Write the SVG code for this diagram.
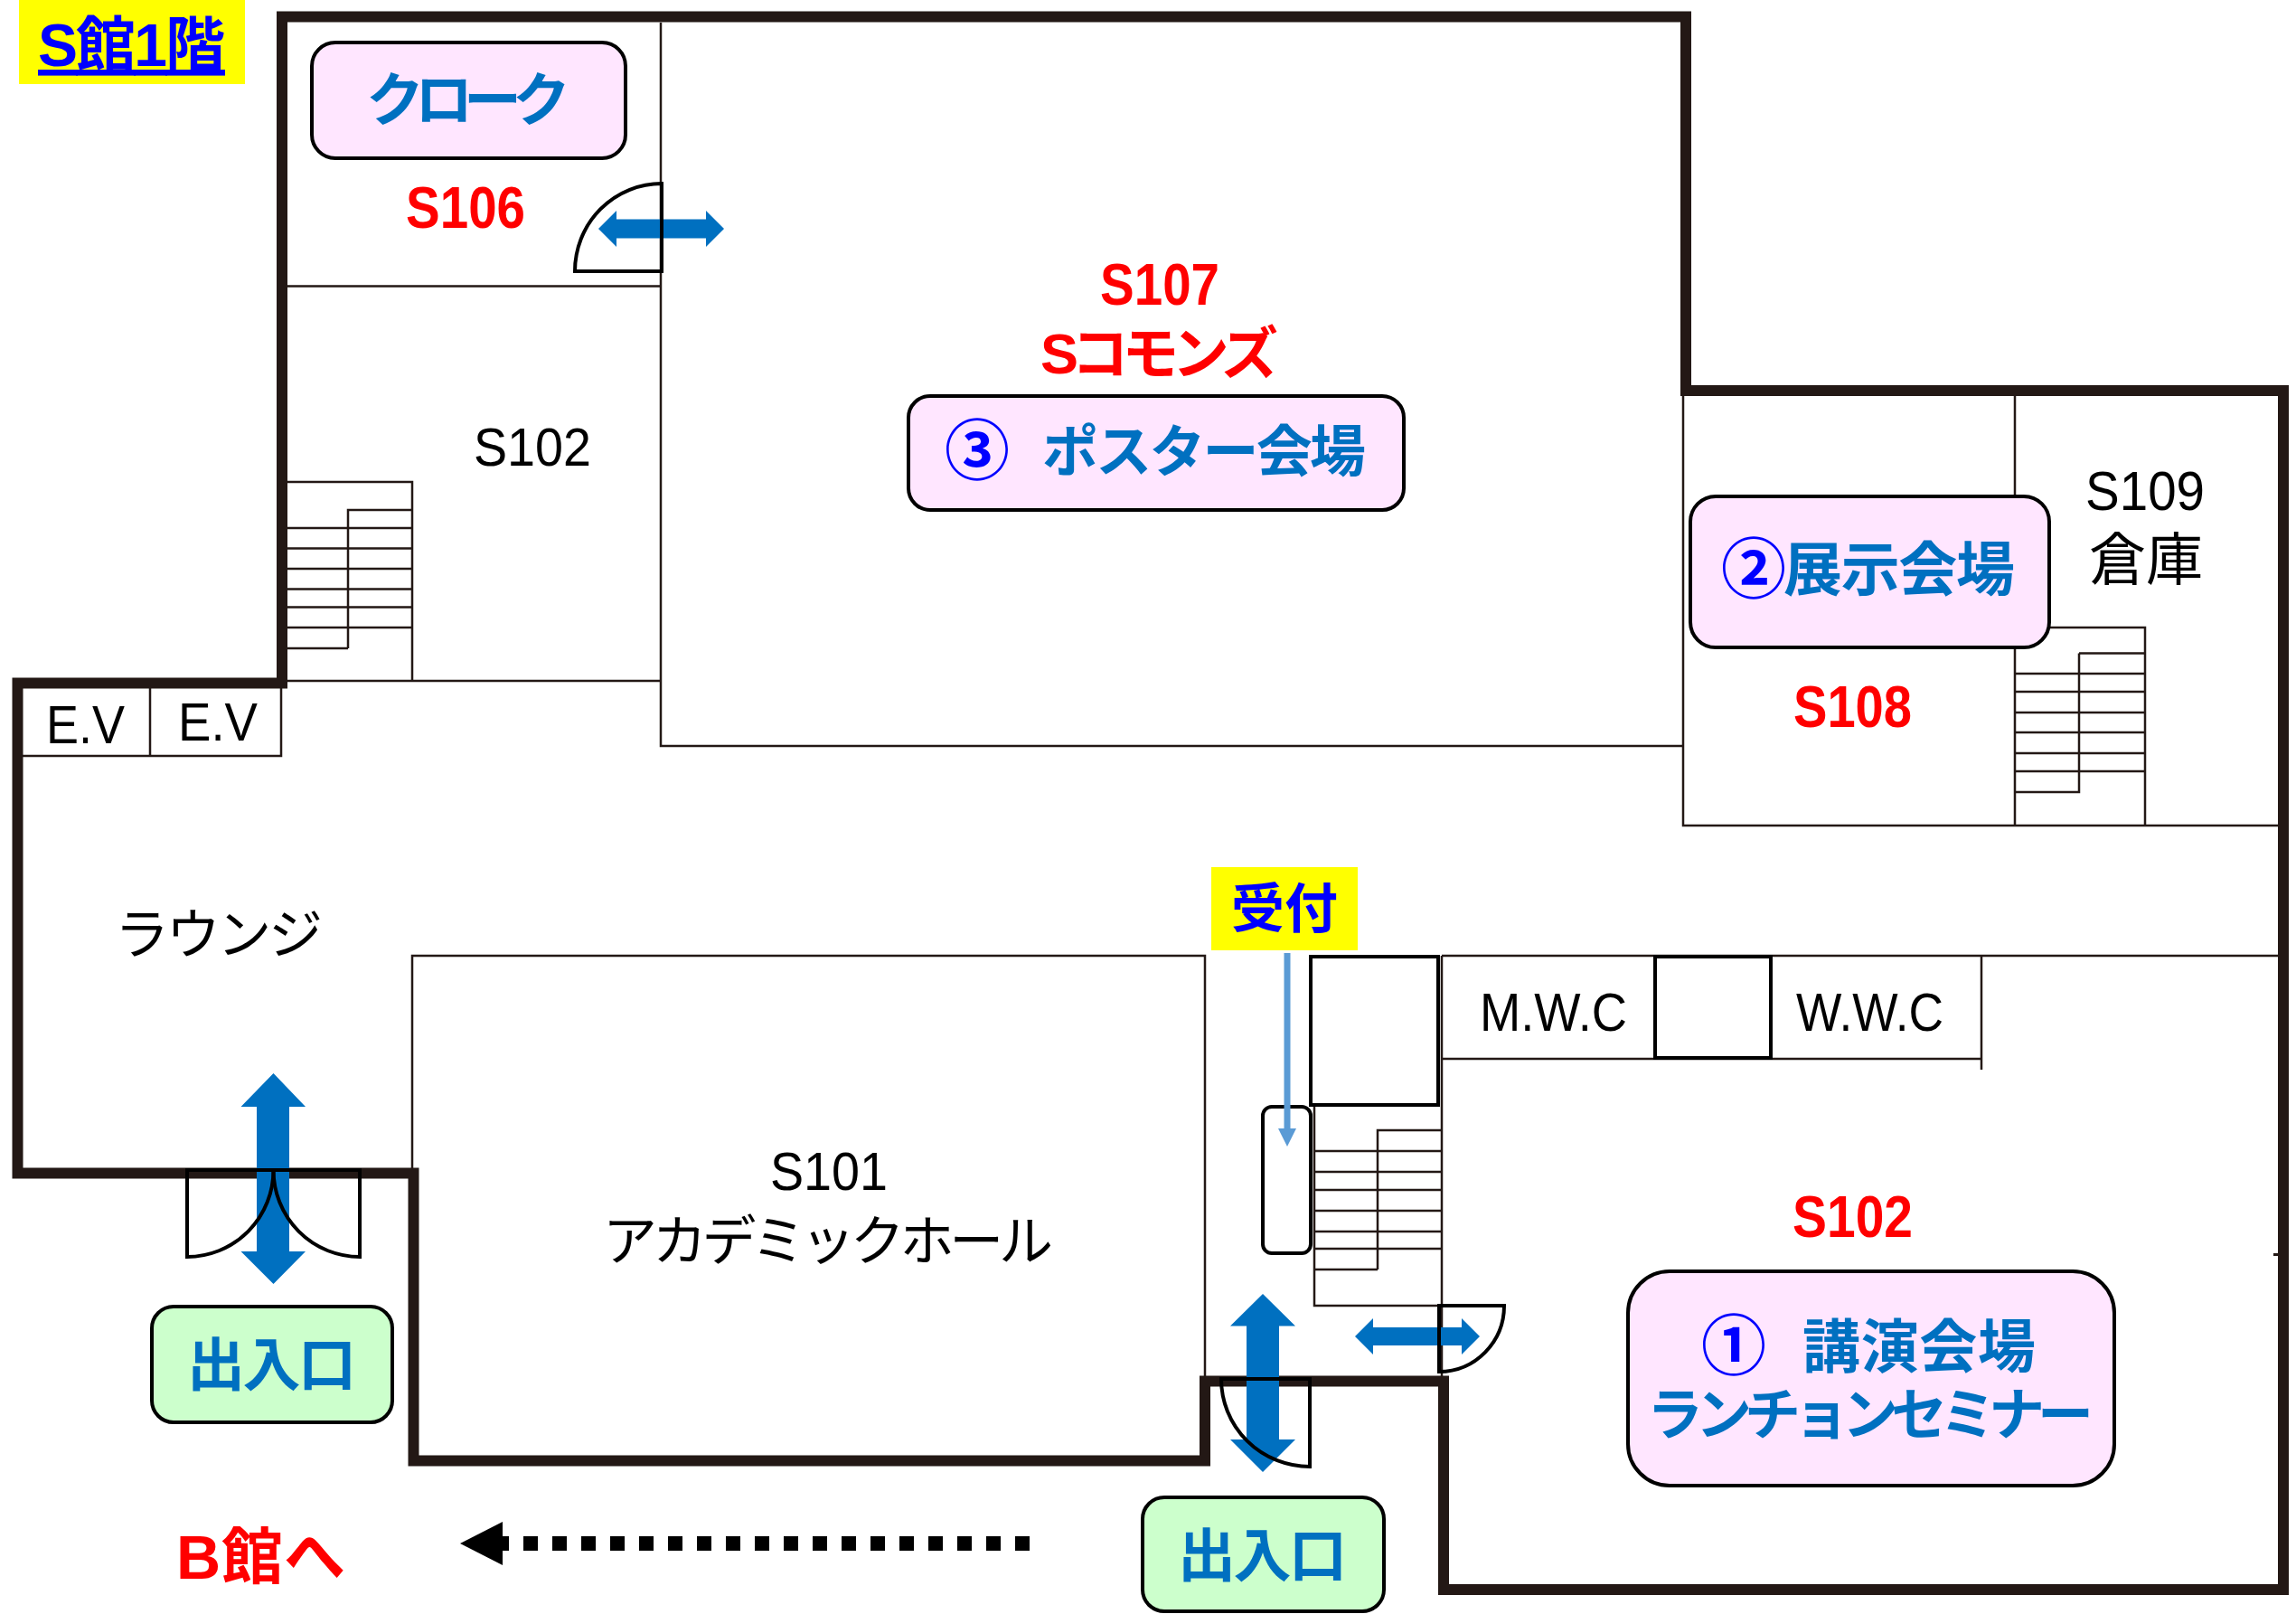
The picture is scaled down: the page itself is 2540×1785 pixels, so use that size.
<svg xmlns="http://www.w3.org/2000/svg" width="2540" height="1785" viewBox="0 0 2540 1785">
<style>
text{font-family:"Liberation Sans","Noto Sans CJK JP",sans-serif;white-space:pre}
.j{font-family:"Noto Sans CJK JP","Liberation Sans",sans-serif}
.b{font-weight:700}
.blue{fill:#0070c0}
.pure{fill:#0000ff}
.red{fill:#ff0000}
.blk{fill:#000}
.wall{fill:none;stroke:#231815;stroke-width:12;stroke-miterlimit:10}
.thin{fill:none;stroke:#231815;stroke-width:2.5}
.door{fill:none;stroke:#000;stroke-width:4}
.arr{fill:#0070c0}
.pink{fill:#ffe6ff;stroke:#000;stroke-width:4}
.green{fill:#ccffcc;stroke:#000;stroke-width:4}
</style>
<rect width="2540" height="1785" fill="#fff"/>

<g id="thin-walls">
<path class="thin" d="M731,25V825H1862M318,316.5H731M318,753H731"/>
<path class="thin" d="M318,533H456V753M385,717V564H456M318,717H385M318,584H456M318,606.5H456M318,629H456M318,651.5H456M318,671.5H456M318,694H456"/>
<path class="thin" d="M25,836H311V760M166,760V836"/>
<path class="thin" d="M1862,437V913H2520M2229,437V913"/>
<path class="thin" d="M2229,694H2373V913M2300,722.5V876H2229M2300,722.5H2373M2229,745H2373M2229,765H2373M2229,788H2373M2229,810H2373M2229,833H2373M2229,853H2373"/>
<path class="thin" d="M456,1615V1057H1333V1525"/>
<path class="thin" d="M1595,1057H2520M1595,1057V1525M1595,1171H2192M2192,1057V1183"/>
<path class="thin" d="M1454,1223V1444H1595M1524,1404V1250H1595M1454,1404H1524M1454,1273H1595M1454,1296H1595M1454,1316H1595M1454,1339H1595M1454,1362H1595M1454,1381H1595"/>
<rect x="1450" y="1058" width="141" height="164" fill="none" stroke="#000" stroke-width="4"/>
<rect x="1831" y="1058" width="128" height="112" fill="none" stroke="#000" stroke-width="4"/>
<rect x="1397" y="1224" width="53" height="162" rx="10" fill="none" stroke="#000" stroke-width="4"/>
<rect x="2515" y="1386" width="6" height="3" fill="#231815"/>
</g>
<path id="outer-wall" class="wall" d="M312,18.500H1865V432H2526V1758H1597V1527.5H1333V1615.5H457.500V1297.500H19.500V755.500H312Z"/>

<g id="connectors">
<polygon class="arr" points="662,253 682,233 682,242.500 781,242.500 781,233 801,253 781,273 781,263.500 682,263.500 682,273"/>
<polygon class="arr" points="302.500,1187 338,1224 320,1224 320,1384 338,1384 302.500,1420 266.500,1384 284,1384 284,1224 266.500,1224"/>
<polygon class="arr" points="1397,1431 1433,1466.500 1415,1466.500 1415,1592 1433,1592 1397,1628 1361,1592 1379,1592 1379,1466.500 1361,1466.500"/>
<polygon class="arr" points="1499,1478 1519,1458 1519,1468 1617,1468 1617,1458 1637,1478 1617,1498 1617,1488 1519,1488 1519,1498"/>
<polygon fill="#5b9bd5" points="1420.500,1054 1427.500,1054 1427.500,1248 1434,1248 1424,1268 1414,1248 1420.500,1248"/>
<line x1="1139" y1="1707" x2="546" y2="1707" stroke="#000" stroke-width="16" stroke-dasharray="16 16"/>
<polygon fill="#000" points="509,1707 556,1683 556,1731"/>
</g>

<g id="doors">
<path class="door" d="M732,203V300H636A96,97 0 0 1 732,203Z"/>
<path class="door" d="M207,1390V1294H302.500A95.500,96 0 0 1 207,1390Z"/>
<path class="door" d="M398,1390V1294H302.500A95.500,96 0 0 0 398,1390Z"/>
<path class="door" d="M1351,1525H1449V1622A98,97 0 0 1 1351,1525Z"/>
<path class="door" d="M1664,1444H1592V1517A72,73 0 0 0 1664,1444Z"/>
</g>

<g id="title"><rect x="21" width="250" height="93" fill="#ffff00"/><text class="b pure" x="42" y="73" font-size="66" text-decoration="underline" textLength="207">S<tspan class="j">館</tspan>1<tspan class="j">階</tspan></text></g>
<g id="cloak"><rect class="pink" x="345" y="47" width="347" height="128" rx="26"/><text class="j b blue" x="405" y="133" font-size="64" textLength="226">クローク</text></g>
<g id="s106"><text class="b red" x="449" y="252" font-size="65" textLength="132" lengthAdjust="spacingAndGlyphs">S106</text></g>
<g id="s102-upper"><text class="blk" x="524" y="515" font-size="60" textLength="130" lengthAdjust="spacingAndGlyphs">S102</text></g>
<g id="ev-1"><text class="blk" x="51" y="822" font-size="60" textLength="87" lengthAdjust="spacingAndGlyphs">E.V</text></g>
<g id="ev-2"><text class="blk" x="197" y="819" font-size="60" textLength="88" lengthAdjust="spacingAndGlyphs">E.V</text></g>
<g id="s107"><text class="b red" x="1217" y="337" font-size="65" textLength="132" lengthAdjust="spacingAndGlyphs">S107</text><text class="b red" x="1151" y="413" font-size="63" textLength="263">S<tspan class="j">コモンズ</tspan></text></g>
<g id="poster"><rect class="pink" x="1005" y="438" width="548" height="126" rx="24"/><text class="j b pure" x="1045" y="524" font-size="72">③</text><text class="j b blue" x="1153" y="522" font-size="62" textLength="358">ポスター会場</text></g>
<g id="exhibit"><rect class="pink" x="1870" y="549" width="397" height="167" rx="28"/><text class="j b pure" x="1904" y="655" font-size="72">②</text><text class="j b blue" x="1973" y="653" font-size="65" textLength="256">展示会場</text></g>
<g id="s108"><text class="b red" x="1984" y="804" font-size="65" textLength="131" lengthAdjust="spacingAndGlyphs">S108</text></g>
<g id="s109"><text class="blk" x="2307" y="564" font-size="62" textLength="132" lengthAdjust="spacingAndGlyphs">S109</text><text class="j blk" x="2311" y="641" font-size="63">倉庫</text></g>
<g id="lounge"><text class="j blk" x="127" y="1055" font-size="60" textLength="230">ラウンジ</text></g>
<g id="reception"><rect x="1340" y="959" width="162" height="92" fill="#ffff00"/><text class="j b pure" x="1362" y="1026" font-size="59">受付</text></g>
<g id="mwc"><text class="blk" x="1637" y="1140" font-size="60" textLength="163" lengthAdjust="spacingAndGlyphs">M.W.C</text></g>
<g id="wwc"><text class="blk" x="1987" y="1140" font-size="60" textLength="163" lengthAdjust="spacingAndGlyphs">W.W.C</text></g>
<g id="s101"><text class="blk" x="852" y="1316" font-size="60" textLength="130" lengthAdjust="spacingAndGlyphs">S101</text><text class="j blk" x="667" y="1394" font-size="60" textLength="498">アカデミックホール</text></g>
<g id="s102-lower"><text class="b red" x="1983" y="1368" font-size="65" textLength="133" lengthAdjust="spacingAndGlyphs">S102</text></g>
<g id="lecture"><rect class="pink" x="1801" y="1406" width="538" height="237" rx="46"/><text class="j b pure" x="1882" y="1514" font-size="72">①</text><text class="j b blue" x="1994" y="1512" font-size="64" textLength="258">講演会場</text><text class="j b blue" x="1822" y="1587" font-size="62" textLength="494">ランチョンセミナー</text></g>
<g id="entrance-1"><rect class="green" x="168" y="1445" width="266" height="128" rx="24"/><text class="j b blue" x="207" y="1532" font-size="64" textLength="187">出入口</text></g>
<g id="entrance-2"><rect class="green" x="1264" y="1656" width="267" height="126" rx="24"/><text class="j b blue" x="1303" y="1743" font-size="64" textLength="187">出入口</text></g>
<g id="to-b"><text class="b red" x="195" y="1746" font-size="68" textLength="187">B<tspan class="j">館へ</tspan></text></g>
</svg>
